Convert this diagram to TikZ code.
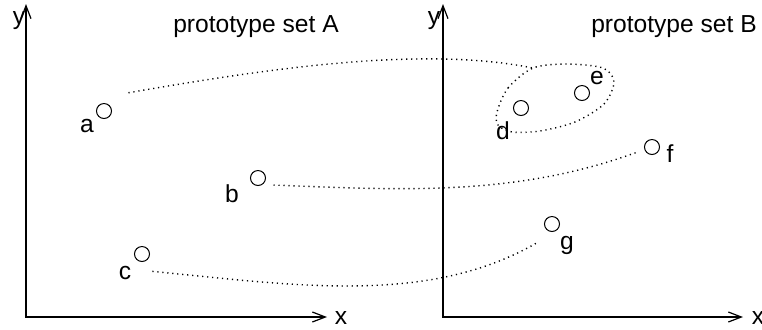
\documentclass[tikz,border=0pt]{standalone}
\usepackage{fontspec}
\setmainfont{Liberation Sans}
\usetikzlibrary{arrows.meta}

\begin{document}
\begin{tikzpicture}[
    x=0.5pt, y=-0.5pt,
    every node/.style={font=\fontsize{12.3}{14}\selectfont},
    proto/.style={circle, draw, line width=0.5pt, minimum size=7.5pt, inner sep=0pt},
    lbl/.style={inner sep=0pt},
    link/.style={line width=0.7pt, dash pattern=on 0.6pt off 1.9pt},
    axis/.style={line width=0.6pt, {Straight Barb[length=6.5pt, width=5pt]}-{Straight Barb[length=6.5pt, width=5pt]}}
]
\useasboundingbox (0,0) rectangle (762,329);

\draw [axis] (26,4) |- (327,317);
\draw [axis] (443,4) |- (743,317);
\node (yA) [lbl] at (19,21) {y};
\node (xA) [lbl] at (341,318) {x};
\node (yB) [lbl] at (434,21) {y};
\node (xB) [lbl] at (758,318) {x};
\node (titleA) [anchor=base] at (256,32) {prototype set A};
\node (titleB) [anchor=base] at (674,32) {prototype set B};

\node (a) [proto] at (104,111) {};
\node (b) [proto] at (258,178) {};
\node (c) [proto] at (142,254) {};
\node (d) [proto] at (521,108) {};
\node (e) [proto] at (582,93) {};
\node (f) [proto] at (652,147) {};
\node (g) [proto] at (552,224) {};

\node (la) [lbl] at (87,126) {a};
\node (lb) [lbl] at (232,194) {b};
\node (lc) [lbl] at (125,273) {c};
\node (ld) [lbl] at (503,131) {d};
\node (le) [lbl] at (597,78) {e};
\node (lf) [lbl] at (670,154) {f};
\node (lg) [lbl] at (567,245) {g};

\draw [link] plot [smooth cycle] coordinates {(497,112) (508,88) (533,68) (567,64) (603,68) (614,82) (604,104) (575,122) (540,131) (512,132) (498,125)};
\coordinate (grptop) at (533,68);

\draw [link] ([xshift=9.4pt, yshift=6.3pt]a.north east) .. controls (260,70) and (420,45) .. (grptop);
\draw [link] ([xshift=3.75pt, yshift=-3.5pt]b.east) .. controls (400,190) and (515,197) .. ([xshift=-3.25pt, yshift=-2.5pt]f.west);
\draw [link] ([xshift=2.35pt, yshift=-5.85pt]c.south east) .. controls (300,286) and (430,305) .. ([xshift=-4.35pt, yshift=-6.35pt]g.south west);
\end{tikzpicture}
\end{document}
